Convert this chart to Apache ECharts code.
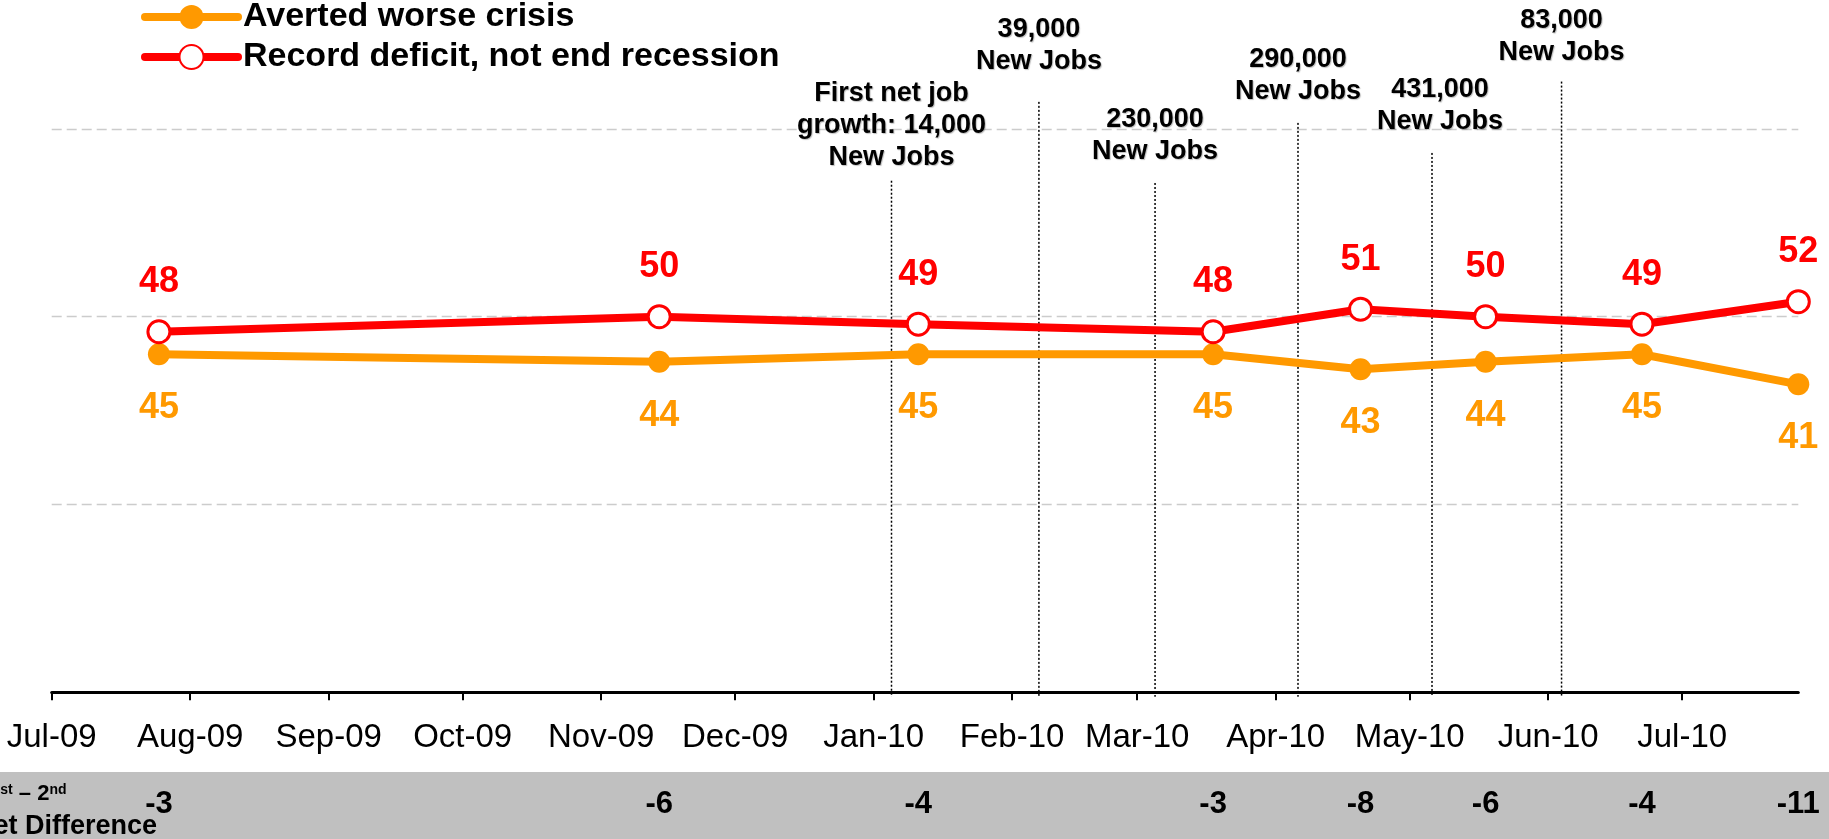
<!DOCTYPE html>
<html>
<head>
<meta charset="utf-8">
<script src="https://cdn.jsdelivr.net/npm/echarts@6/dist/echarts.min.js"></script>
<style>
html,body{margin:0;padding:0;background:#fff;}
#chart{width:1829px;height:839px;}
</style>
</head>
<body>
<div id="chart"></div>
<script>
// ---- data ----
const pollDates = ['2009-07-25','2009-11-14','2010-01-11','2010-03-18','2010-04-20','2010-05-18','2010-06-22','2010-07-27'];
const avertedCrisis = [45, 44, 45, 45, 43, 44, 45, 41];
const recordDeficit = [48, 50, 49, 48, 51, 50, 49, 52];
const netDifference = [-3, -6, -4, -3, -8, -6, -4, -11];
const tickMonths = ['2009-07','2009-08','2009-09','2009-10','2009-11','2009-12','2010-01','2010-02','2010-03','2010-04','2010-05','2010-06','2010-07'];
const tickLabels = ['Jul-09','Aug-09','Sep-09','Oct-09','Nov-09','Dec-09','Jan-10','Feb-10','Mar-10','Apr-10','May-10','Jun-10','Jul-10'];
const jobDates = ['2010-01-05','2010-02-07','2010-03-05','2010-04-06','2010-05-06','2010-06-04'];
const jobTexts = ['First net job\ngrowth: 14,000\nNew Jobs','39,000\nNew Jobs','230,000\nNew Jobs','290,000\nNew Jobs','431,000\nNew Jobs','83,000\nNew Jobs'];
// layout of the annotations (in y-axis value units) kept separately
const jobLineTop = [68.1, 78.6, 67.8, 75.8, 71.8, 81.3];
const jobLabelBottom = [69.1, 81.8, 69.8, 77.9, 73.8, 83.0];
const jobLabelDx = [0, 0, 0, 0, 8, 0];

const FONT = '"Liberation Sans", Arial, Helvetica, sans-serif';
const chart = echarts.init(document.getElementById('chart'), null, {renderer: 'canvas'});
const ts = s => echarts.time.parse(s).getTime();
const DAY = 86400000;
function monthKey(v) {
  const d = new Date(v);
  return d.getFullYear() + '-' + String(d.getMonth() + 1).padStart(2, '0');
}

const option = {
  animation: false,
  backgroundColor: '#fff',
  grid: {left: 51.7, right: 30.7, top: 128.9, bottom: 146.7},
  legend: {
    orient: 'vertical', left: 141, top: 0, padding: 0,
    itemWidth: 93, itemHeight: 30, itemGap: 6,
    lineStyle: {width: 8, cap: 'round'},
    textStyle: {fontFamily: FONT, fontSize: 34, fontWeight: 'bold', color: '#000'},
    data: ['Averted worse crisis', 'Record deficit, not end recession']
  },
  xAxis: {
    type: 'time',
    min: ts('2009-07-01'), max: ts('2010-07-27'),
    minInterval: 28 * DAY, maxInterval: 31 * DAY,
    axisLine: {lineStyle: {color: '#000', width: 3}},
    axisTick: {show: true, length: 8, lineStyle: {color: '#000', width: 2}},
    axisLabel: {
      fontFamily: FONT, fontSize: 33, color: '#000', margin: 29,
      showMinLabel: true, showMaxLabel: false, hideOverlap: false,
      formatter: function (v) {
        const d = new Date(v);
        if (d.getDate() !== 1) return '';
        const i = tickMonths.indexOf(monthKey(v));
        return i >= 0 ? tickLabels[i] : '';
      }
    },
    splitLine: {show: false}
  },
  yAxis: {
    type: 'value', min: 0, max: 75, interval: 25,
    axisLine: {show: false}, axisTick: {show: false}, axisLabel: {show: false},
    splitLine: {show: true, lineStyle: {color: '#CCCCCC', width: 1.3, type: [10, 5]}}
  },
  graphic: [
    {type: 'rect', z: -10, shape: {x: 0, y: 772, width: 1829, height: 67}, style: {fill: '#C0C0C0'}},
    {type: 'text', z: 10, x: -12, y: 794, style: {
      text: '{a|1}{s|st}{a| – 2}{s|nd}', verticalAlign: 'middle',
      rich: {
        a: {fontFamily: FONT, fontSize: 22, fontWeight: 'bold', fill: '#000', color: '#000'},
        s: {fontFamily: FONT, fontSize: 14, fontWeight: 'bold', color: '#000', verticalAlign: 'top', padding: [0, 0, 8, 0]}
      }
    }},
    {type: 'text', z: 10, x: -26, y: 827, style: {
      text: 'Net Difference', fontFamily: FONT, fontSize: 27, fontWeight: 'bold', fill: '#000', verticalAlign: 'middle'
    }}
  ],
  series: [
    {
      name: 'Averted worse crisis', type: 'line',
      data: pollDates.map((d, i) => [d, avertedCrisis[i]]),
      symbol: 'circle', symbolSize: 22,
      lineStyle: {color: '#FF9900', width: 8},
      itemStyle: {color: '#FF9900'},
      label: {show: true, position: 'bottom', distance: 25, fontFamily: FONT, fontSize: 36, fontWeight: 'bold', color: '#FF9900'},
      emphasis: {disabled: true}, z: 3
    },
    {
      name: 'Record deficit, not end recession', type: 'line',
      data: pollDates.map((d, i) => [d, recordDeficit[i]]),
      symbol: 'circle', symbolSize: 22,
      lineStyle: {color: '#FF0000', width: 8},
      itemStyle: {color: '#FFFFFF', borderColor: '#FF0000', borderWidth: 3},
      label: {show: true, position: 'top', distance: 19, fontFamily: FONT, fontSize: 36, fontWeight: 'bold', color: '#FF0000'},
      emphasis: {disabled: true}, z: 4
    },
    {
      name: 'jobs', type: 'custom', clip: false, silent: true, z: 2,
      dimensions: [{name: 'date', type: 'time'}, 'top', 'lab'],
      encode: {x: 0, y: 1},
      data: jobDates.map((d, i) => [d, jobLineTop[i], jobLabelBottom[i]]),
      renderItem: function (params, api) {
        const i = params.dataIndex;
        const t = api.value(0);
        const x = api.coord([t, 0])[0];
        const yTop = api.coord([t, api.value(1)])[1];
        const yBot = api.coord([t, -0.6])[1];
        const yLab = api.coord([t, api.value(2)])[1];
        return {type: 'group', children: [
          {type: 'line', shape: {x1: x, y1: yTop, x2: x, y2: yBot}, style: {stroke: '#000', lineWidth: 1.5, lineDash: [2, 2]}},
          {type: 'text', x: x + jobLabelDx[i], y: yLab, style: {
            text: jobTexts[i], fill: '#000', align: 'center', verticalAlign: 'bottom',
            font: 'bold 27px ' + FONT, lineHeight: 32,
            textShadowColor: 'rgba(0,0,0,0.25)', textShadowOffsetX: 1, textShadowOffsetY: 1, textShadowBlur: 1
          }}
        ]};
      }
    },
    {
      name: 'diff', type: 'custom', clip: false, silent: true, z: 10,
      dimensions: [{name: 'date', type: 'time'}, 'diff'],
      encode: {x: 0},
      data: pollDates.map((d, i) => [d, netDifference[i]]),
      renderItem: function (params, api) {
        const x = api.coord([api.value(0), 0])[0];
        return {type: 'text', x: x, y: 804, style: {
          text: String(api.value(1)), fill: '#000', align: 'center', verticalAlign: 'middle',
          font: 'bold 31px ' + FONT
        }};
      }
    }
  ]
};
chart.setOption(option);
</script>
</body>
</html>
